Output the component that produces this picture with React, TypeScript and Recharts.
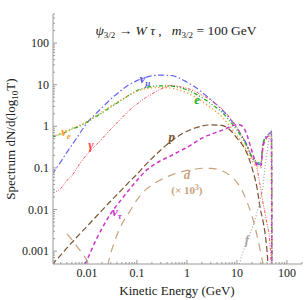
import React from 'react'
import { LineChart, Line, XAxis, YAxis, ReferenceDot } from 'recharts'

// kinetic energy grid (GeV)
const energy = [0.002, 0.003, 0.004, 0.005, 0.007, 0.01, 0.015, 0.02, 0.03, 0.05, 0.07, 0.1, 0.15, 0.2, 0.3, 0.5, 0.7, 1, 1.5, 2, 3, 5, 7, 10, 13, 16, 20, 25, 30, 33, 36, 40, 45, 49, 50]

// spectra dN/d(log10 T), null = not drawn
const nuMu = [0.07, 0.14, 0.24, 0.35, 0.64, 1.2, 2.0, 2.8, 4.5, 7.5, 10, 12.5, 15, 16.3, 17, 16.5, 14.5, 11.5, 8.6, 6.6, 4.4, 2.5, 1.6, 0.9, 0.55, 0.35, 0.18, 0.13, 0.12, 0.35, 0.52, 0.6, 0.68, 0.75, 1e-5]
const elec = [0.55, 0.65, 0.75, 0.85, 1.0, 1.25, 1.7, 2.1, 2.9, 4.3, 5.6, 7.2, 8.5, 9.1, 9.4, 9.2, 8.6, 7.5, 6.0, 4.9, 3.5, 2.2, 1.4, 0.8, 0.5, 0.32, 0.18, 0.14, 0.13, 0.38, 0.5, 0.58, 0.66, 0.72, 1e-5]
const nuE = [0.57, 0.67, 0.77, 0.88, 1.05, 1.3, 1.75, 2.2, 3.0, 4.4, 5.6, 7.0, 8.0, 8.4, 8.6, 8.2, 7.5, 6.4, 5.0, 4.0, 2.8, 1.7, 1.05, 0.6, 0.38, 0.25, 0.15, 0.11, 0.1, 0.3, 0.45, 0.52, 0.6, 0.68, 1e-5]
const gamma = [0.025, 0.032, 0.05, 0.065, 0.12, 0.21, 0.35, 0.5, 0.85, 1.6, 2.4, 3.4, 4.9, 6.0, 7.8, 9.7, 9.0, 8.2, 6.8, 5.6, 4.3, 2.6, 1.7, 0.95, 0.55, 0.33, 0.18, 0.1, 0.03, 0.015, 0.009, 0.0045, 0.0019, 0.0004, null]
const proton = [0.00047, 0.0008, 0.0012, 0.0016, 0.0025, 0.0039, 0.0066, 0.0095, 0.016, 0.03, 0.046, 0.07, 0.12, 0.17, 0.27, 0.45, 0.6, 0.76, 0.92, 1.02, 1.08, 1.05, 0.85, 0.52, 0.35, 0.22, 0.1, 0.035, 0.009, 0.0055, 0.003, 0.001, 0.0001, null, null]
const nuTau = [null, null, null, null, 0.00024, 0.0006, 0.0018, 0.0035, 0.008, 0.018, 0.03, 0.05, 0.085, 0.11, 0.15, 0.2, 0.25, 0.31, 0.42, 0.52, 0.64, 0.8, 0.95, 1.1, 1.0, 0.6, 0.25, 0.12, 0.11, 0.3, 0.45, 0.55, 0.62, 0.7, 1e-5]
const deut = [null, null, 0.0026, 0.0019, 0.0011, 0.0006, 0.0002, 0.00015, 0.0009, 0.0045, 0.0085, 0.017, 0.03, 0.039, 0.052, 0.068, 0.078, 0.087, 0.094, 0.098, 0.097, 0.085, 0.068, 0.045, 0.027, 0.015, 0.007, 0.0025, 0.0009, 0.0005, 0.0002, null, null, null, null]
const fLine = [null, null, null, null, null, null, null, null, null, null, null, null, null, null, null, null, null, null, null, null, null, null, null, 0.0003, 0.0009, 0.0018, 0.0035, 0.008, 0.02, 0.035, 0.09, 0.25, 0.55, 0.8, 1e-5]

// curve labels (anchor in data coordinates)
const labelT = [0.145, 1.6, 0.0038, 0.012, 0.5, 0.04, 1.0, 1.0, 15.8]
const labelV = [13.5, 4.3, 0.72, 0.35, 0.55, 0.0085, 0.066, 0.029, 0.0018]

const xMajor = [0.01, 0.1, 1, 10, 100]
const xLabels = ['0.01', '0.1', '1', '10', '100']
const yMajor = [0.001, 0.01, 0.1, 1, 10, 100]
const yLabels = ['0.001', '0.01', '0.1', '1', '10', '100']

const X_DOMAIN = [0.0021, 200]
const Y_DOMAIN = [0.00049, 500]

const serif = "'Liberation Serif', 'Times New Roman', 'DejaVu Serif', serif"
const frame = '#9a9a9a'

const logTicks = (lo: number, hi: number) => {
  const out: number[] = []
  for (let d = -4; d <= 3; d++) {
    for (let m = 1; m <= 9; m++) {
      const v = parseFloat((m * Math.pow(10, d)).toPrecision(6))
      if (v >= lo && v <= hi) out.push(v)
    }
  }
  return out
}
const xTicks = logTicks(X_DOMAIN[0], X_DOMAIN[1])
const yTicks = logTicks(Y_DOMAIN[0], Y_DOMAIN[1])

const majorIndex = (majors: number[], v: number) => majors.findIndex((m) => Math.abs(m - v) / m < 1e-6)

const FrameTick = (props: any) => {
  const { x, y, payload, side } = props
  const majors = side === 'bottom' || side === 'top' ? xMajor : yMajor
  const labels = side === 'bottom' ? xLabels : side === 'left' ? yLabels : null
  const i = majorIndex(majors, payload.value)
  const len = i >= 0 ? 4 : 2
  let line
  if (side === 'bottom') line = <line x1={x} x2={x} y1={y} y2={y - len} stroke={frame} />
  else if (side === 'top') line = <line x1={x} x2={x} y1={y} y2={y + len} stroke={frame} />
  else if (side === 'left') line = <line x1={x} x2={x + len} y1={y} y2={y} stroke={frame} />
  else line = <line x1={x} x2={x - len} y1={y} y2={y} stroke={frame} />
  return (
    <g>
      {line}
      {labels && i >= 0 && side === 'bottom' && (
        <text x={x} y={y + 13} textAnchor="middle" style={{ fontFamily: serif, fontSize: 12 }} fill="#222">
          {labels[i]}
        </text>
      )}
      {labels && i >= 0 && side === 'left' && (
        <text x={x - 4} y={y + 4} textAnchor="end" style={{ fontFamily: serif, fontSize: 12 }} fill="#222">
          {labels[i]}
        </text>
      )}
    </g>
  )
}

const curveLabel = (main: string, sub: string | null, color: string, size = 13) => (p: any) => (
  <text x={p.cx} y={p.cy + 4} textAnchor="middle" style={{ fontFamily: serif, fontStyle: 'italic', fontWeight: 'bold', fontSize: size }} fill={color}>
    {main}
    {sub && (
      <tspan dy={3} style={{ fontSize: size * 0.7 }}>
        {sub}
      </tspan>
    )}
  </text>
)

const series = [
  { key: 'nuMu', color: '#6464f4', dash: '6 2.5 1.5 2.5', width: 1.2 },
  { key: 'gamma', color: '#ff4a4a', dash: '3 1.5 1 1.5 1 1.5', width: 1 },
  { key: 'elec', color: '#1fae1f', dash: '4 2 1 2 1 2', width: 1.3 },
  { key: 'nuE', color: '#ff9a30', dash: '1.2 2.5', width: 1.5 },
  { key: 'proton', color: '#7a5230', dash: '6 3', width: 1.2 },
  { key: 'nuTau', color: '#cc33cc', dash: '4 3', width: 1.5 },
  { key: 'deut', color: '#c9a27c', dash: '8 6', width: 1.2 },
  { key: 'fLine', color: '#a8a8a8', dash: '1 2', width: 1.2 },
]

const data = energy.map((t, i) => ({
  t,
  nuMu: nuMu[i],
  elec: elec[i],
  nuE: nuE[i],
  gamma: gamma[i],
  proton: proton[i],
  nuTau: nuTau[i],
  deut: deut[i],
  fLine: fLine[i],
}))

const labelDefs = [
  curveLabel('ν', 'μ', '#5a5ae8'),
  curveLabel('e', null, '#1fae1f'),
  curveLabel('ν', 'e', '#ff9a30'),
  curveLabel('γ', null, '#ff4a4a'),
  curveLabel('p', null, '#7a5230'),
  curveLabel('ν', 'τ', '#cc33cc'),
  curveLabel('d', null, '#c9a27c'),
  (p: any) => (
    <text x={p.cx} y={p.cy + 4} textAnchor="middle" style={{ fontFamily: serif, fontWeight: 'bold', fontSize: 11 }} fill="#c9a27c">
      (× 10<tspan dy={-4} style={{ fontSize: 7.5 }}>3</tspan><tspan dy={4}>)</tspan>
    </text>
  ),
  curveLabel('f', null, '#a8a8a8'),
]

export default function App() {
  return (
    <div style={{ position: 'absolute', left: 0, top: 0, width: 306, height: 300, background: '#fff' }}>
      <LineChart width={306} height={300} data={data} margin={{ top: 14, right: 4, bottom: 0, left: 0 }}>
        <XAxis
          dataKey="t"
          type="number"
          scale="log"
          domain={X_DOMAIN}
          allowDataOverflow
          ticks={xTicks}
          interval={0}
          height={36}
          tickSize={0}
          tickMargin={0}
          axisLine={{ stroke: frame }}
          tickLine={false}
          tick={(p: any) => <FrameTick {...p} side="bottom" />}
        />
        <XAxis
          xAxisId="top"
          orientation="top"
          type="number"
          scale="log"
          domain={X_DOMAIN}
          allowDataOverflow
          ticks={xTicks}
          interval={0}
          height={0}
          tickSize={0}
          tickMargin={0}
          axisLine={{ stroke: frame }}
          tickLine={false}
          tick={(p: any) => <FrameTick {...p} side="top" />}
        />
        <YAxis
          type="number"
          scale="log"
          domain={Y_DOMAIN}
          allowDataOverflow
          ticks={yTicks}
          interval={0}
          width={53}
          tickSize={0}
          tickMargin={0}
          axisLine={{ stroke: frame }}
          tickLine={false}
          tick={(p: any) => <FrameTick {...p} side="left" />}
        />
        <YAxis
          yAxisId="right"
          orientation="right"
          type="number"
          scale="log"
          domain={Y_DOMAIN}
          allowDataOverflow
          ticks={yTicks}
          interval={0}
          width={0}
          tickSize={0}
          tickMargin={0}
          axisLine={{ stroke: frame }}
          tickLine={false}
          tick={(p: any) => <FrameTick {...p} side="right" />}
        />
        {series.map((s) => (
          <Line
            key={s.key}
            type="monotone"
            dataKey={s.key}
            stroke={s.color}
            strokeWidth={s.width}
            strokeDasharray={s.dash}
            dot={false}
            activeDot={false}
            isAnimationActive={false}
          />
        ))}
        {labelDefs.map((shape, i) => (
          <ReferenceDot key={i} x={labelT[i]} y={labelV[i]} r={0} shape={shape} />
        ))}
      </LineChart>
      <svg width={306} height={300} style={{ position: 'absolute', left: 0, top: 0, pointerEvents: 'none' }}>
        <text x={176} y={35} textAnchor="middle" style={{ fontFamily: serif, fontSize: 13.5, whiteSpace: 'pre' }} fill="#222">
          <tspan style={{ fontStyle: 'italic' }}>ψ</tspan>
          <tspan dy={3} style={{ fontSize: 9 }}>3/2</tspan>
          <tspan dy={-3}> → </tspan>
          <tspan style={{ fontStyle: 'italic' }}>W τ</tspan>
          <tspan> ,   </tspan>
          <tspan style={{ fontStyle: 'italic' }}>m</tspan>
          <tspan dy={3} style={{ fontSize: 9 }}>3/2</tspan>
          <tspan dy={-3}> = 100 GeV</tspan>
        </text>
        <text x={177} y={295} textAnchor="middle" style={{ fontFamily: serif, fontSize: 13 }} fill="#222">
          Kinetic Energy (GeV)
        </text>
        <text transform="translate(15,139) rotate(-90)" textAnchor="middle" style={{ fontFamily: serif, fontSize: 13 }} fill="#222">
          Spectrum dN/d(log<tspan dy={3} style={{ fontSize: 9 }}>10</tspan>
          <tspan dy={-3}>T)</tspan>
        </text>
      </svg>
    </div>
  )
}
